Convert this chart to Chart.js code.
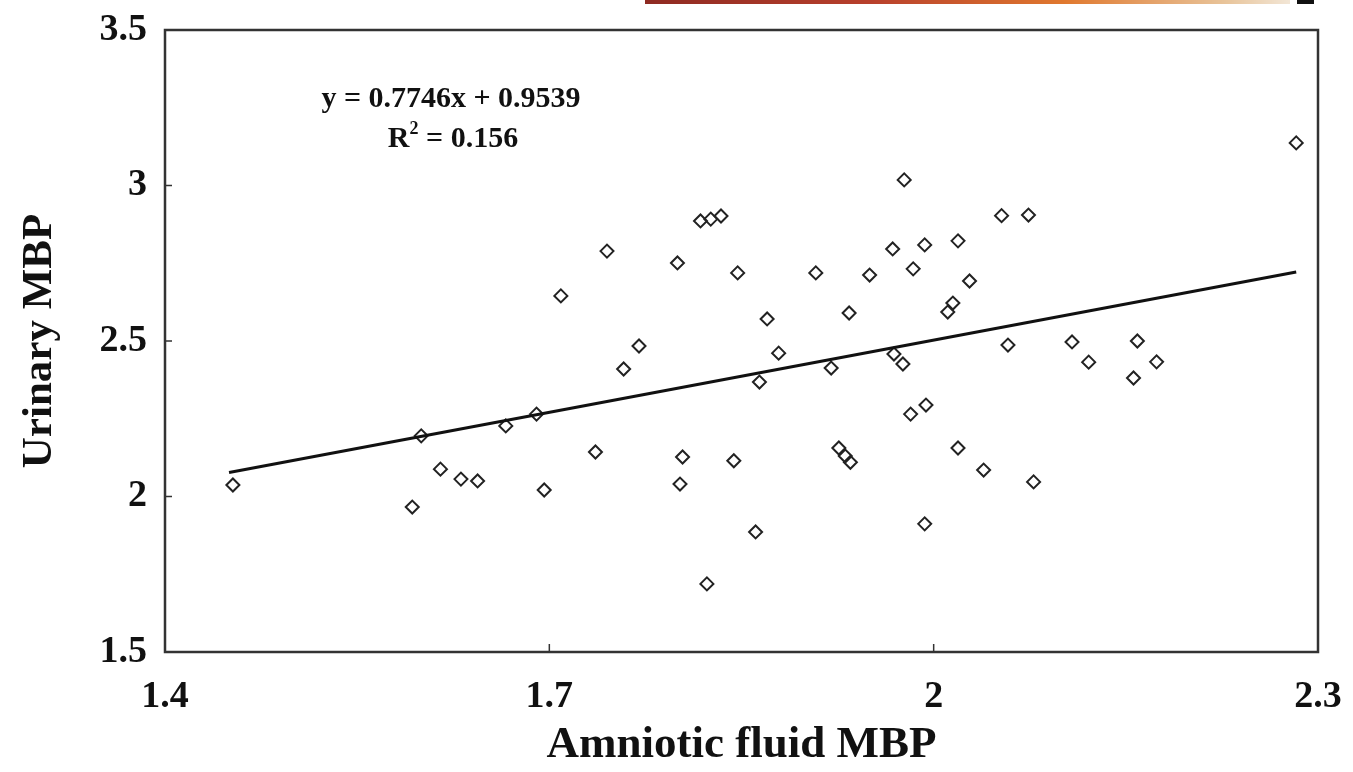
<!DOCTYPE html>
<html>
<head>
<meta charset="utf-8">
<script src="https://cdn.jsdelivr.net/npm/chart.js@4/dist/chart.umd.min.js"></script>
<style>
    html, body { margin: 0; padding: 0; background: #fff; }
    #wrap { position: relative; width: 1353px; height: 772px; overflow: hidden; }
    #strip { position: absolute; left: 645px; top: 0; width: 645px; height: 4px;
             background: linear-gradient(to right, #8e2a22, #b8402c 35%, #e0782e 65%, #e8c49a 90%, #f2e6d6); }
    #stub { position: absolute; left: 1297px; top: 0; width: 17px; height: 4px; background: #111; }
</style>
</head>
<body>
<div id="wrap">
    <canvas id="chart" width="1353" height="772"></canvas>
    <div id="strip"></div>
    <div id="stub"></div>
</div>
<script>
// Amniotic fluid MBP (x) vs urinary MBP (y)
const amnioticMBP = [
    1.453, 1.593, 1.600, 1.615, 1.631, 1.644, 1.666, 1.690, 1.696, 1.709,
    1.736, 1.745, 1.758, 1.770, 1.800, 1.802, 1.804, 1.818, 1.823, 1.826,
    1.834, 1.844, 1.847, 1.861, 1.864, 1.870, 1.879, 1.908, 1.920, 1.926,
    1.931, 1.935, 1.934, 1.950, 1.968, 1.969, 1.976, 1.977, 1.982, 1.984,
    1.993, 1.993, 1.994, 2.011, 2.015, 2.019, 2.019, 2.028, 2.039, 2.053,
    2.058, 2.074, 2.078, 2.108, 2.121, 2.156, 2.159, 2.174, 2.283
];
const urinaryMBP = [
    2.037, 1.966, 2.195, 2.088, 2.056, 2.050, 2.227, 2.265, 2.021, 2.645,
    2.143, 2.789, 2.410, 2.484, 2.751, 2.040, 2.127, 2.886, 1.719, 2.892,
    2.902, 2.115, 2.719, 1.886, 2.368, 2.571, 2.461, 2.719, 2.413, 2.156,
    2.130, 2.110, 2.590, 2.712, 2.796, 2.458, 2.426, 3.018, 2.265, 2.732,
    2.809, 1.912, 2.294, 2.593, 2.622, 2.822, 2.156, 2.693, 2.085, 2.903,
    2.487, 2.905, 2.047, 2.497, 2.432, 2.381, 2.500, 2.433, 3.137
];

// fitted line y = 0.7746x + 0.9539, drawn across the data range
const trendX = [1.45, 2.283];
const trendY = [2.077, 2.722];

const xTicks = [1.4, 1.7, 2, 2.3];
const yTicks = [1.5, 2, 2.5, 3, 3.5];

const eqText = 'y = 0.7746x + 0.9539';
const r2Value = '0.156';

const FONT = '"Liberation Serif", "Times New Roman", serif';
const INK = '#111';

// frame around the plot + short inward tick marks
const framePlugin = {
    id: 'frame',
    afterDraw(chart) {
        const { ctx, chartArea: a, scales } = chart;
        ctx.save();
        ctx.strokeStyle = '#333';
        ctx.lineWidth = 2.5;
        ctx.strokeRect(a.left, a.top, a.right - a.left, a.bottom - a.top);

        ctx.lineWidth = 1.5;
        ctx.beginPath();
        xTicks.slice(1, -1).forEach(v => {
            const px = scales.x.getPixelForValue(v);
            ctx.moveTo(px, a.bottom);
            ctx.lineTo(px, a.bottom - 8);
        });
        yTicks.slice(1, -1).forEach(v => {
            const py = scales.y.getPixelForValue(v);
            ctx.moveTo(a.left, py);
            ctx.lineTo(a.left + 7, py);
        });
        ctx.stroke();
        ctx.restore();
    }
};

// regression equation text in the upper left
const equationPlugin = {
    id: 'equation',
    afterDraw(chart) {
        const { ctx, chartArea: a } = chart;
        const cx = a.left + 286;
        ctx.save();
        ctx.fillStyle = INK;
        ctx.textBaseline = 'alphabetic';
        ctx.font = 'bold 30px ' + FONT;
        ctx.textAlign = 'center';
        ctx.fillText(eqText, cx, a.top + 77);

        // R² line with a raised 2
        const big = 'bold 30px ' + FONT;
        const small = 'bold 18px ' + FONT;
        ctx.font = big;
        const wR = ctx.measureText('R').width;
        const rest = ' = ' + r2Value;
        const wRest = ctx.measureText(rest).width;
        ctx.font = small;
        const w2 = ctx.measureText('2').width;
        const total = wR + w2 + wRest;
        let x = cx - total / 2 + 2;
        const y = a.top + 117;
        ctx.textAlign = 'left';
        ctx.font = big;
        ctx.fillText('R', x, y);
        x += wR;
        ctx.font = small;
        ctx.fillText('2', x, y - 13);
        x += w2;
        ctx.font = big;
        ctx.fillText(rest, x, y);
        ctx.restore();
    }
};

const points = amnioticMBP.map((x, i) => ({ x, y: urinaryMBP[i] }));
const trend = trendX.map((x, i) => ({ x, y: trendY[i] }));

new Chart(document.getElementById('chart'), {
    type: 'scatter',
    data: {
        datasets: [
            {
                label: 'samples',
                data: points,
                pointStyle: 'rectRot',
                pointRadius: 6.5,
                pointBorderWidth: 2,
                pointBorderColor: '#222',
                pointBackgroundColor: 'rgba(255,255,255,0)',
                order: 2
            },
            {
                type: 'line',
                label: 'fit',
                data: trend,
                borderColor: INK,
                borderWidth: 3,
                pointRadius: 0,
                fill: false,
                order: 1
            }
        ]
    },
    options: {
        responsive: false,
        animation: false,
        events: [],
        layout: { padding: { top: 30, right: 35, bottom: 0, left: 0 } },
        plugins: {
            legend: { display: false },
            tooltip: { enabled: false }
        },
        scales: {
            x: {
                type: 'linear',
                min: 1.4,
                max: 2.3,
                afterBuildTicks: s => { s.ticks = xTicks.map(v => ({ value: v })); },
                afterFit: s => { s.height = 120; s.paddingLeft = 0; s.paddingRight = 0; },
                grid: { display: false, drawTicks: false },
                border: { display: false },
                ticks: {
                    color: INK,
                    padding: 22,
                    maxRotation: 0,
                    autoSkip: false,
                    font: { family: FONT, size: 38, weight: 'bold' },
                    callback: v => String(v)
                },
                title: {
                    display: true,
                    text: 'Amniotic fluid MBP',
                    color: INK,
                    padding: { top: 0, bottom: 0 },
                    font: { family: FONT, size: 45, weight: 'bold' }
                }
            },
            y: {
                type: 'linear',
                min: 1.5,
                max: 3.5,
                afterBuildTicks: s => { s.ticks = yTicks.map(v => ({ value: v })); },
                afterFit: s => { s.width = 165; s.paddingTop = 0; s.paddingBottom = 0; },
                grid: { display: false, drawTicks: false },
                border: { display: false },
                ticks: {
                    color: INK,
                    padding: 18,
                    autoSkip: false,
                    font: { family: FONT, size: 38, weight: 'bold' },
                    callback: v => String(v)
                },
                title: {
                    display: true,
                    text: 'Urinary MBP',
                    color: INK,
                    padding: { top: 14, bottom: 0 },
                    font: { family: FONT, size: 43, weight: 'bold' }
                }
            }
        }
    },
    plugins: [framePlugin, equationPlugin]
});
</script>
</body>
</html>
